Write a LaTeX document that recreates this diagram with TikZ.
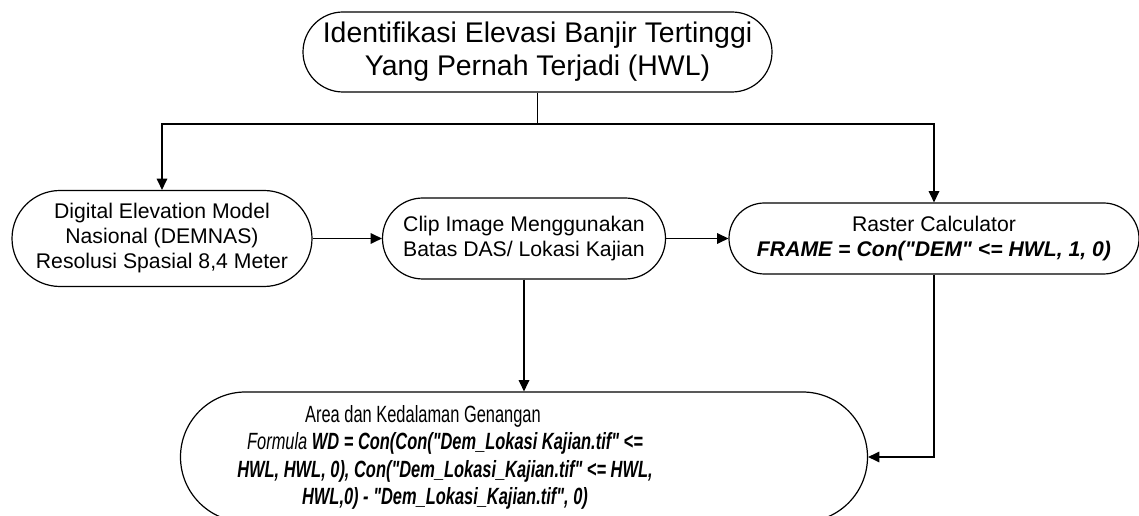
\documentclass[tikz,border=0pt]{standalone}
\usepackage{fontspec}
\setmainfont{Liberation Sans}
\newfontfamily\arialfont{Liberation Sans}
\newfontfamily\narrowfont[FakeStretch=0.70]{Liberation Sans}
\usetikzlibrary{shapes.misc,arrows.meta}
\begin{document}
\begin{tikzpicture}[x=0.75pt,y=-0.75pt,
  box/.style={draw, rounded rectangle, line width=0.9pt, inner sep=0pt, align=center},
  conn/.style={line width=0.9pt},
  arr/.style={conn,-{Triangle[length=8.5pt,width=8pt]}},
  midfont/.style={font=\arialfont\fontsize{15.9pt}{18.75pt}\selectfont}
]
\useasboundingbox (0,0) rectangle (1139,516);
\node[box, minimum width=351.75pt, minimum height=60pt,
      font=\arialfont\fontsize{21.3pt}{24.75pt}\selectfont] (top) at (537.5,52)
  {Identifikasi Elevasi Banjir Tertinggi\\Yang Pernah Terjadi (HWL)};
\node[box, midfont, minimum width=225pt, minimum height=72pt] (dem) at (162,238.5)
  {Digital Elevation Model\\Nasional (DEMNAS)\\Resolusi Spasial 8,4 Meter};
\node[box, midfont, minimum width=212.25pt, minimum height=60.75pt] (clip) at (524,238.5)
  {Clip Image Menggunakan\\Batas DAS/ Lokasi Kajian};
\node[box, midfont, minimum width=307.5pt, minimum height=53.25pt] (raster) at (934,238.5)
  {Raster Calculator\\\textbf{\textit{FRAME = Con("DEM" <= HWL, 1, 0)}}};
\node[box, minimum width=515.25pt, minimum height=97.5pt] (area) at (524,457) {};
\node[align=center, inner sep=0pt, font=\narrowfont\fontsize{17.6pt}{20.4pt}\selectfont] (areatext) at (445,457.5)
  {Area dan Kedalaman Genangan\hspace*{33pt}\\
   \textit{Formula} \textbf{\textit{WD = Con(Con("Dem\_Lokasi Kajian.tif" <=}}\\
   \textbf{\textit{HWL, HWL, 0), Con("Dem\_Lokasi\_Kajian.tif" <= HWL,}}\\
   \textbf{\textit{HWL,0) - "Dem\_Lokasi\_Kajian.tif", 0)}}};
\coordinate (j) at (537.5,124);
\draw[conn] (top.south) -- (j);
\draw[arr] (j) -| (dem.north);
\draw[arr] (j) -| (raster.north);
\draw[arr] (dem.east) -- (clip.west);
\draw[arr] (clip.east) -- (raster.west);
\draw[arr] (clip.south) -- (area.north);
\draw[arr] (raster.south) |- (area.east);
\end{tikzpicture}
\end{document}
